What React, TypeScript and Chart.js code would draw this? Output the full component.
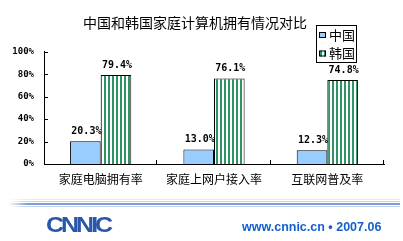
import React, { useEffect, useRef } from "react";
import { Chart, registerables } from "chart.js";

Chart.register(...registerables);

const TITLE = "中国和韩国家庭计算机拥有情况对比";
const categories = ["家庭电脑拥有率", "家庭上网户接入率", "互联网普及率"];
const seriesNames = ["中国", "韩国"];
const chinaValues = [20.3, 13.0, 12.3];
const koreaValues = [79.4, 76.1, 74.8];
const yTicks = [0, 20, 40, 60, 80, 100];
const footerUrl = "www.cnnic.cn • 2007.06";
const logoText = "CNNIC";

const CN_FONT = "'Noto Sans CJK SC', 'Noto Sans', sans-serif";
const MONO_FONT = "'DejaVu Sans Mono', 'Liberation Mono', monospace";
const GREEN = "#2f9463";

function makeStripePattern(): CanvasPattern | string {
  const c = document.createElement("canvas");
  c.width = 4;
  c.height = 4;
  const g = c.getContext("2d");
  if (!g) return GREEN;
  g.fillStyle = "#ffffff";
  g.fillRect(0, 0, 4, 4);
  g.fillStyle = GREEN;
  g.fillRect(0, 0, 2, 4);
  const p = g.createPattern(c, "repeat");
  return p || GREEN;
}

const innerTicksPlugin = {
  id: "innerTicks",
  afterDraw(chart: any) {
    const { ctx, chartArea, scales } = chart;
    const y = scales.y;
    const x = scales.x;
    ctx.save();
    ctx.strokeStyle = "#000";
    ctx.lineWidth = 1;
    ctx.beginPath();
    yTicks.forEach((v) => {
      const py = Math.round(y.getPixelForValue(v)) + 0.5;
      ctx.moveTo(chartArea.left, py);
      ctx.lineTo(chartArea.left + 4, py);
    });
    const n = categories.length;
    for (let i = 0; i < n; i++) {
      const bx =
        i < n - 1
          ? (x.getPixelForValue(i) + x.getPixelForValue(i + 1)) / 2
          : chartArea.right;
      const px = Math.round(bx) - 0.5;
      ctx.moveTo(px, chartArea.bottom);
      ctx.lineTo(px, chartArea.bottom - 4);
    }
    ctx.stroke();
    ctx.restore();
  },
};

const valueLabelsPlugin = {
  id: "valueLabels",
  afterDatasetsDraw(chart: any) {
    const { ctx } = chart;
    ctx.save();
    ctx.font = `bold 10px ${MONO_FONT}`;
    ctx.fillStyle = "#000";
    ctx.textAlign = "center";
    ctx.textBaseline = "middle";
    chart.data.datasets.forEach((ds: any, di: number) => {
      const meta = chart.getDatasetMeta(di);
      meta.data.forEach((el: any, i: number) => {
        const v = ds.data[i];
        ctx.fillText(v.toFixed(1) + "%", el.x + 1, el.y - 10);
      });
    });
    ctx.restore();
  },
};

const boxLegendPlugin = {
  id: "boxLegend",
  afterDraw(chart: any) {
    const { ctx, chartArea } = chart;
    const right = chartArea.right - 27;
    const left = right - 41;
    const top = 25;
    const h = 37;
    ctx.save();
    ctx.fillStyle = "#fff";
    ctx.fillRect(left, top, 41, h);
    ctx.strokeStyle = "#000";
    ctx.lineWidth = 1;
    ctx.strokeRect(left + 0.5, top + 0.5, 40, h);
    ctx.font = `13px ${CN_FONT}`;
    ctx.textBaseline = "middle";
    ctx.textAlign = "left";
    chart.data.datasets.forEach((ds: any, i: number) => {
      const cy = top + 10 + i * 18.5;
      ctx.fillStyle = ds.backgroundColor;
      ctx.fillRect(left + 3, cy - 3, 7, 6);
      ctx.strokeStyle = "#000";
      ctx.strokeRect(left + 3.5, cy - 2.5, 6, 5);
      ctx.fillStyle = "#000";
      ctx.fillText(ds.label, left + 13, cy);
    });
    ctx.restore();
  },
};

export default function App() {
  const ref = useRef<HTMLCanvasElement | null>(null);

  useEffect(() => {
    if (!ref.current) return;
    const stripes = makeStripePattern();
    const chart = new Chart(ref.current, {
      type: "bar",
      data: {
        labels: categories,
        datasets: [
          {
            label: seriesNames[0],
            data: chinaValues,
            backgroundColor: "#99CCFF",
            borderColor: "#000",
            borderWidth: 1,
            categoryPercentage: 0.54,
            barPercentage: 1,
          },
          {
            label: seriesNames[1],
            data: koreaValues,
            backgroundColor: stripes as any,
            borderColor: "#000",
            borderWidth: 1,
            categoryPercentage: 0.54,
            barPercentage: 1,
          },
        ],
      },
      options: {
        animation: false,
        responsive: false,
        devicePixelRatio: 1,
        layout: { padding: { left: 6, right: 19, top: 0, bottom: 53 } },
        plugins: {
          legend: { display: false },
          tooltip: { enabled: false },
          title: {
            display: true,
            text: TITLE,
            color: "#000",
            font: { family: CN_FONT, size: 14, weight: "normal" },
            padding: { top: 14, bottom: 21 },
          },
        },
        scales: {
          x: {
            afterFit: (s: any) => {
              s.height = 24;
            },
            grid: { display: false, drawTicks: false },
            border: { display: true, color: "#000", width: 1 },
            ticks: {
              color: "#000",
              font: { family: CN_FONT, size: 12 },
              padding: 8,
              maxRotation: 0,
              autoSkip: false,
            },
          },
          y: {
            min: 0,
            max: 100,
            afterFit: (s: any) => {
              s.width = 38;
            },
            afterBuildTicks: (s: any) => {
              s.ticks = yTicks.map((v) => ({ value: v }));
            },
            grid: { display: false, drawTicks: false },
            border: { display: true, color: "#000", width: 1 },
            ticks: {
              color: "#000",
              font: { family: MONO_FONT, size: 9, weight: "bold" },
              padding: 10,
              callback: (v: any) => v + "%",
            },
          },
        },
      },
      plugins: [innerTicksPlugin, valueLabelsPlugin, boxLegendPlugin],
    });
    return () => chart.destroy();
  }, []);

  const line = (top: number, color: string, h = 1) => (
    <div
      style={{
        position: "absolute",
        left: 8,
        top,
        width: 392,
        height: h,
        background: `linear-gradient(to right, rgba(255,255,255,0) 0px, ${color} 20px, ${color} 100%)`,
      }}
    />
  );

  return (
    <div
      style={{
        position: "absolute",
        left: 0,
        top: 0,
        width: 403,
        height: 241,
        background: "#fff",
        overflow: "hidden",
      }}
    >
      <canvas
        ref={ref}
        width={403}
        height={241}
        style={{ position: "absolute", left: 0, top: 0, width: 403, height: 241 }}
      />
      {line(199, "#e2e9f6")}
      {line(201, "#c9d6ef")}
      {line(203, "#7e9ed6", 2)}
      {line(205.5, "#c3d1ec")}
      <div
        style={{
          position: "absolute",
          left: 46,
          top: 210,
          fontFamily: "'Liberation Sans', Arial, sans-serif",
          fontWeight: "bold",
          fontSize: 25,
          lineHeight: "28px",
          letterSpacing: -3,
          color: "#2a57a8",
          transform: "scaleY(0.9)",
        }}
      >
        {logoText}
      </div>
      <div
        style={{
          position: "absolute",
          left: 242,
          top: 219,
          fontFamily: "'Liberation Sans', Arial, sans-serif",
          fontWeight: "bold",
          fontSize: 12.5,
          lineHeight: "16px",
          color: "#1560cc",
          whiteSpace: "nowrap",
        }}
      >
        {footerUrl}
      </div>
    </div>
  );
}
